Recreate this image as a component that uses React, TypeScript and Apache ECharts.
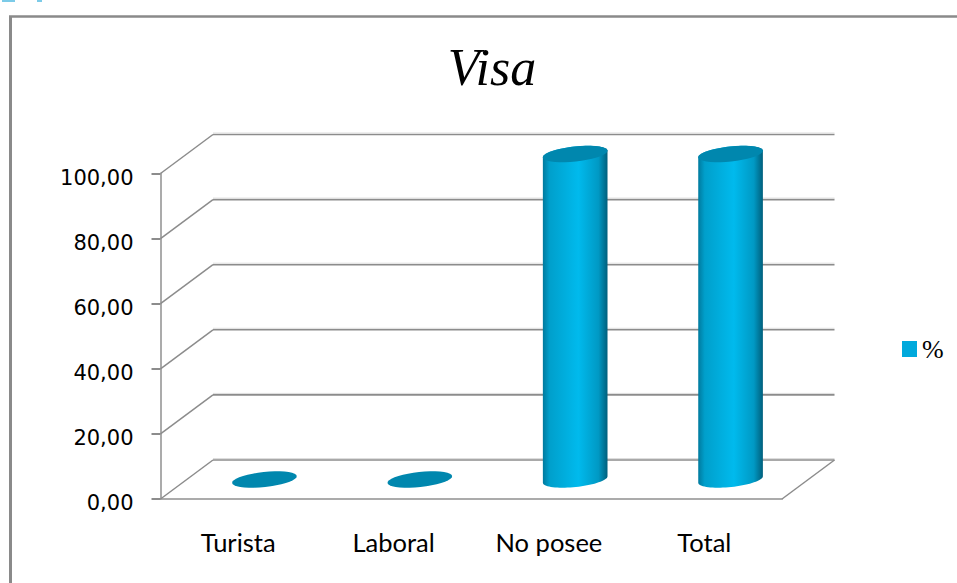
import React, { useEffect, useRef } from "react";
import * as echarts from "echarts";

const categories = ["Turista", "Laboral", "No posee", "Total"];
const percentValues = [0, 0, 100, 100];
const gridValues = [0, 20, 40, 60, 80, 100];

const DEPTH_X = 52.5;
const DEPTH_Y = 39;
const TILT = (-6 * Math.PI) / 180;
const RX = 32.5;
const RY = 7.5;

function ellipsePoint(cx: number, cy: number, t: number) {
  const c = Math.cos(t) * RX;
  const s = Math.sin(t) * RY;
  return [cx + c * Math.cos(TILT) - s * Math.sin(TILT), cy + c * Math.sin(TILT) + s * Math.cos(TILT)];
}
function arc(cx: number, cy: number, from: number, to: number) {
  const pts: number[][] = [];
  for (let i = 0; i <= 36; i++) pts.push(ellipsePoint(cx, cy, from + ((to - from) * i) / 36));
  return pts;
}

const renderGrid = (params: any, api: any) => {
  const v = api.value(1);
  const cs = params.coordSys;
  const y = api.coord([0, v])[1];
  const left = cs.x;
  const stroke = "#8C8C8C";
  const children: any[] = [
    { type: "line", shape: { x1: left, y1: y, x2: left + DEPTH_X, y2: y - DEPTH_Y }, style: { stroke, lineWidth: 1.5 } },
    { type: "line", shape: { x1: left + DEPTH_X, y1: y - DEPTH_Y, x2: left + cs.width + DEPTH_X, y2: y - DEPTH_Y }, style: { stroke, lineWidth: 1.6 } },
    { type: "line", shape: { x1: left + DEPTH_X, y1: y - DEPTH_Y - 1.5, x2: left + cs.width + DEPTH_X, y2: y - DEPTH_Y - 1.5 }, style: { stroke: "#DDDDDD", lineWidth: 1 } },
  ];
  if (v === 0) {
    children.push({
      type: "line",
      shape: { x1: left + cs.width, y1: y, x2: left + cs.width + DEPTH_X, y2: y - DEPTH_Y },
      style: { stroke, lineWidth: 1.5 },
    });
  }
  return { type: "group", children };
};

const renderCylinder = (_params: any, api: any) => {
  const base = api.coord([api.value(0), 0]);
  const top = api.coord([api.value(0), api.value(1)]);
  const cx = base[0] + DEPTH_X / 2;
  const y0 = base[1] - DEPTH_Y / 2;
  const y1 = top[1] - DEPTH_Y / 2;
  const children: any[] = [];
  if (y0 - y1 > 0.5) {
    children.push({
      type: "polygon",
      shape: { points: [...arc(cx, y0, 0, Math.PI), ...arc(cx, y1, Math.PI, 2 * Math.PI)] },
      style: {
        fill: new echarts.graphic.LinearGradient(0, 0, 1, 0, [
          { offset: 0, color: "#007A9E" },
          { offset: 0.1, color: "#009FCB" },
          { offset: 0.55, color: "#00BAED" },
          { offset: 0.86, color: "#0099C4" },
          { offset: 1, color: "#005F7C" },
        ]),
      },
    });
  }
  children.push({
    type: "polygon",
    shape: { points: arc(cx, y1, 0, 2 * Math.PI) },
    style: { fill: "#0087AE" },
  });
  return { type: "group", children };
};

export default function App() {
  const ref = useRef<HTMLDivElement>(null);
  useEffect(() => {
    const chart = echarts.init(ref.current!, undefined, { renderer: "svg" });
    chart.setOption({
      animation: false,
      backgroundColor: "#FFFFFF",
      title: {
        text: "Visa",
        left: 487,
        top: 36,
        textAlign: "center",
        textStyle: { fontFamily: "Liberation Serif", fontStyle: "italic", fontWeight: "normal", fontSize: 52, color: "#000000" },
      },
      legend: {
        data: [{ name: "%", icon: "rect" }],
        left: 902,
        top: 336,
        padding: 0,
        itemWidth: 15,
        itemHeight: 16,
        itemGap: 0,
        textStyle: { fontFamily: "Liberation Serif", fontSize: 26, color: "#000000" },
      },
      grid: { left: 160.5, top: 173.5, width: 621.5, height: 325.5, containLabel: false },
      xAxis: {
        type: "category",
        data: categories,
        axisLine: { lineStyle: { color: "#ABABAB", width: 2 } },
        axisTick: { alignWithLabel: false, length: 9, lineStyle: { color: "#8C8C8C", width: 2 } },
        axisLabel: { margin: 30, fontFamily: "Lato", fontSize: 25.5, color: "#000000" },
        splitLine: { show: false },
      },
      yAxis: {
        type: "value",
        min: 0,
        max: 100,
        interval: 20,
        axisLine: { show: true, lineStyle: { color: "#ABABAB", width: 2 } },
        axisTick: { show: true, length: 9, lineStyle: { color: "#8C8C8C", width: 2 } },
        axisLabel: {
          margin: 27,
          fontFamily: "DejaVu Sans",
          fontSize: 21,
          color: "#000000",
          verticalAlign: "top",
          lineHeight: 8,
          formatter: (v: number) => v.toFixed(2).replace(".", ","),
        },
        splitLine: { show: false },
      },
      series: [
        {
          type: "custom",
          name: "grid",
          silent: true,
          clip: false,
          z: 1,
          renderItem: renderGrid,
          encode: { x: 0, y: 1 },
          data: gridValues.map((v) => [0, v]),
        },
        {
          type: "custom",
          name: "%",
          clip: false,
          z: 3,
          itemStyle: { color: "#00A9DC" },
          renderItem: renderCylinder,
          encode: { x: 0, y: 1 },
          data: percentValues.map((v, i) => [i, v]),
        },
      ],
      graphic: [
        { type: "line", silent: true, shape: { x1: 10.5, y1: 16, x2: 10.5, y2: 583 }, style: { stroke: "#8A8A8A", lineWidth: 3 } },
        { type: "line", silent: true, shape: { x1: 9, y1: 16.5, x2: 957, y2: 16.5 }, style: { stroke: "#8A8A8A", lineWidth: 2.5 } },
        { type: "rect", silent: true, shape: { x: 2, y: 0, width: 13, height: 2 }, style: { fill: "#7CCBE8" } },
        { type: "rect", silent: true, shape: { x: 37, y: 0, width: 5, height: 2 }, style: { fill: "#7CCBE8" } },
      ],
    });
    return () => chart.dispose();
  }, []);
  return <div ref={ref} style={{ position: "fixed", left: 0, top: 0, width: 957, height: 583 }} />;
}
